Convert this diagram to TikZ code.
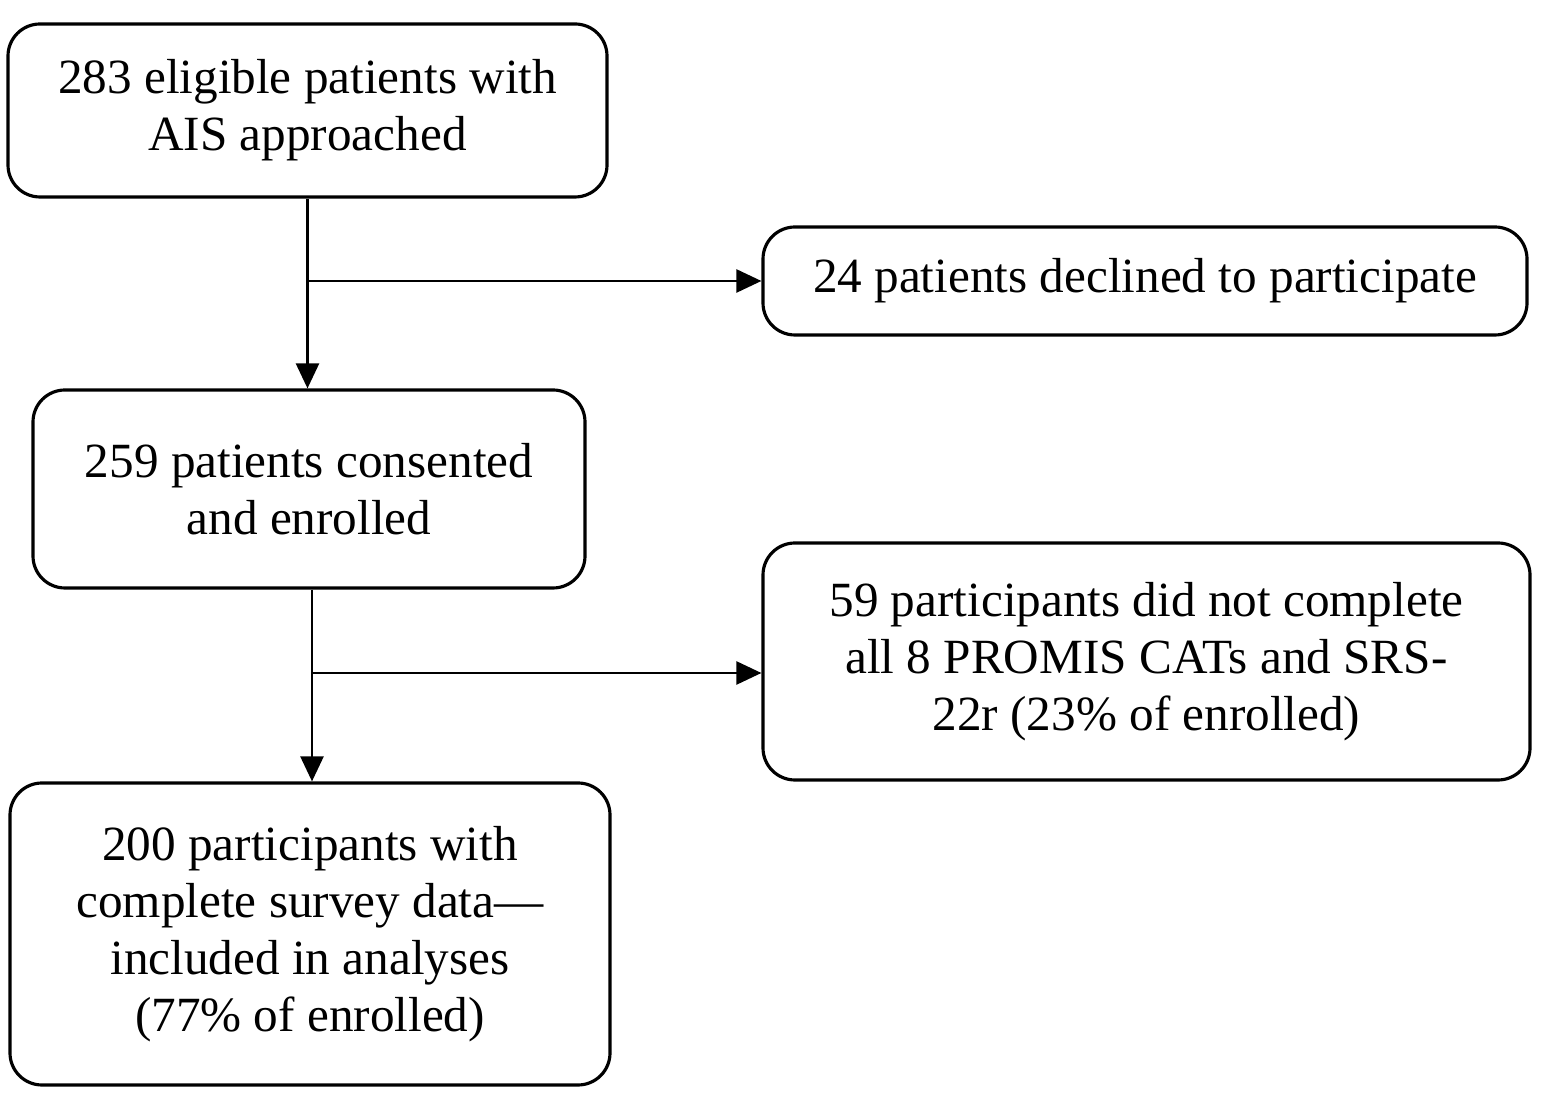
\documentclass[tikz,border=0pt]{standalone}
\usepackage{fontspec}
\setmainfont{Liberation Serif}
\usetikzlibrary{arrows.meta}

\begin{document}
\begin{tikzpicture}[>={Triangle[length=2.5mm,width=2.3mm]}, line width=0.7pt,
        every node/.style={font=\fontsize{14}{16.2}\selectfont},
        box/.style={draw, rounded corners=0.32cm, line width=0.9pt, align=center, inner sep=0pt}]
        \useasboundingbox (0,0) rectangle (15.5,11);

        \node[box, minimum width=5.99cm, minimum height=1.73cm] (approached) at (3.075,9.895) {283 eligible patients with\\AIS approached};
        \node[box, minimum width=7.64cm, minimum height=1.08cm] (declined) at (11.45,8.19) {24 patients declined to participate};
        \node[box, minimum width=5.52cm, minimum height=1.98cm] (enrolled) at (3.09,6.11) {259 patients consented\\and enrolled};
        \node[box, minimum width=7.67cm, minimum height=2.37cm] (incomplete) at (11.465,4.385) {59 participants did not complete\\all 8 PROMIS CATs and SRS-\\22r (23\% of enrolled)};
        \node[box, minimum width=6.0cm, minimum height=3.02cm] (analysed) at (3.10,1.66) {200 participants with\\complete survey data—\\included in analyses\\(77\% of enrolled)};

        \coordinate (split1) at (approached.south |- declined.west);
        \coordinate (split2) at ([xshift=0.03cm]enrolled.south |- 0,4.27);

        \draw[->] (approached.south) -- (approached.south |- enrolled.north);
        \draw[->] (split1) -- (declined.west);
        \draw[->] ([xshift=0.03cm]enrolled.south) -- ([xshift=0.03cm]enrolled.south |- analysed.north);
        \draw[->] (split2) -- (split2 -| incomplete.west);
    \end{tikzpicture}
\end{document}
